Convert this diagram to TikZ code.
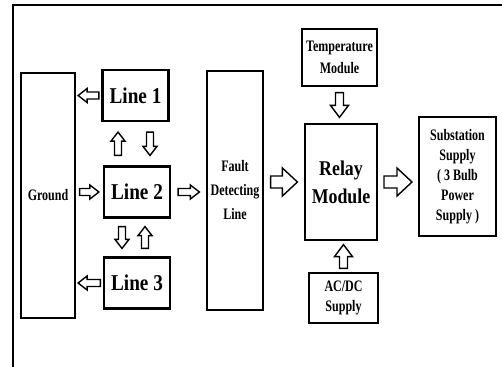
\documentclass[tikz,border=0pt]{standalone}
\usepackage{fontspec}
\setmainfont[FakeStretch=0.85]{Liberation Serif}
\newfontfamily\narrowfont[FakeStretch=0.75]{Liberation Serif}
\usetikzlibrary{calc,positioning}

% hollow block arrow, drawn as a filled outline between two points
\tikzset{
    blk gap/.store in=\blkgap, blk w/.store in=\blkw,
    blk h/.store in=\blkh, blk len/.store in=\blkhead,
    blk gap=2pt, blk w=1.75pt, blk h=3.5pt, blk len=4.5pt,
    blk/.style={draw, fill=white, line width=0.7pt, line join=miter, to path={
        let \p1=(\tikztostart), \p2=(\tikztotarget),
            \p3=($(\p1)!\blkgap!(\p2)$), \p4=($(\p2)!\blkgap!(\p1)$),
            \p5=($(\p4)!\blkhead!(\p3)$) in
        ($(\p3)!\blkw!90:(\p4)$) -- ($(\p5)!\blkw!-90:(\p3)$) -- ($(\p5)!\blkh!-90:(\p3)$)
        -- (\p4) -- ($(\p5)!\blkh!90:(\p3)$) -- ($(\p5)!\blkw!90:(\p3)$)
        -- ($(\p3)!\blkw!-90:(\p4)$) -- cycle}},
    mid/.style={blk w=2pt, blk h=4.5pt, blk len=6pt},
    big/.style={blk w=3pt, blk h=7pt, blk len=7.5pt}
}

\begin{document}
\begin{tikzpicture}[x=0.5pt, y=0.5pt,
    box/.style={draw, line width=0.6pt, inner sep=0pt, align=center, font=\narrowfont\bfseries\fontsize{8}{10}\selectfont},
    linebox/.style={box, line width=1.1pt, minimum width=33pt, minimum height=25.5pt, font=\bfseries\fontsize{11.3}{13}\selectfont}
]
\clip (0,0) rectangle (502,366);
% outer frame
\draw[line width=1.3pt] (13,-20) -- (13,361) -- (530,361);

\node[box, minimum width=27pt, minimum height=122.5pt] (ground) at (48,170.5) {Ground};
\node[linebox] (line1) at (135.5,270.5) {Line 1};
\node[linebox] (line2) at (137,174) {Line 2};
\node[linebox] (line3) at (137,83) {Line 3};
\node[box, minimum width=28pt, minimum height=119.5pt, font=\narrowfont\bfseries\fontsize{8}{12}\selectfont] (fault) at (235,175.5) {Fault\\Detecting\\Line};
\node[box, minimum width=37.5pt, minimum height=28.5pt, font=\narrowfont\bfseries\fontsize{8}{10.8}\selectfont] (temp) at (339.5,308.5) {Temperature\\Module};
\node[box, minimum width=36pt, minimum height=58pt, font=\bfseries\fontsize{10.5}{14}\selectfont] (relay) at (341,184) {Relay\\Module};
\node[box, minimum width=34.5pt, minimum height=25pt] (acdc) at (343.5,68) {AC/DC\\Supply};
\node[box, minimum width=38.5pt, minimum height=59.5pt] (sub) at (457.5,189.5) {Substation\\Supply\\( 3 Bulb\\Power\\Supply )};

% end points of the arrows
\coordinate (g1) at (line1.west -| ground.east);
\coordinate (g2) at (ground.east |- line2.west);
\coordinate (g3) at (line3.west -| ground.east);
\coordinate (up12) at ($(line2.north)+(-19,0)$);
\coordinate (up12t) at (up12 |- line1.south);
\coordinate (dn12) at ($(line1.south)+(14.5,0)$);
\coordinate (dn12t) at (dn12 |- line2.north);
\coordinate (dn23) at ($(line2.south)+(-15,0)$);
\coordinate (dn23t) at (dn23 |- line3.north);
\coordinate (up23) at ($(line3.north)+(8,0)$);
\coordinate (up23t) at (up23 |- line2.south);
\coordinate (f1) at (line2.east -| fault.west);
\coordinate (f2) at (fault.east |- relay.west);
\coordinate (s1) at (relay.east -| sub.west);
\coordinate (t1) at (temp.south |- relay.north);
\coordinate (a1) at (acdc.north |- relay.south);

\draw[blk, blk gap=1.25pt] (line1.west) to (g1);
\draw[blk, blk gap=1.25pt] (line3.west) to (g3);
\draw[blk] (g2) to (line2.west);
\draw[blk, blk gap=5pt] (up12) to (up12t);
\draw[blk, blk gap=5pt] (dn12) to (dn12t);
\draw[blk, blk gap=4pt] (dn23) to (dn23t);
\draw[blk, blk gap=4pt] (up23) to (up23t);
\draw[blk, blk gap=3.5pt] (line2.east) to (f1);
\draw[blk, big, blk gap=3.5pt] (f2) to (relay.west);
\draw[blk, big, blk gap=3.2pt] (relay.east) to (s1);
\draw[blk, mid, blk gap=3pt] (temp.south) to (t1);
\draw[blk, mid, blk gap=2pt] (acdc.north) to (a1);
\end{tikzpicture}
\end{document}
